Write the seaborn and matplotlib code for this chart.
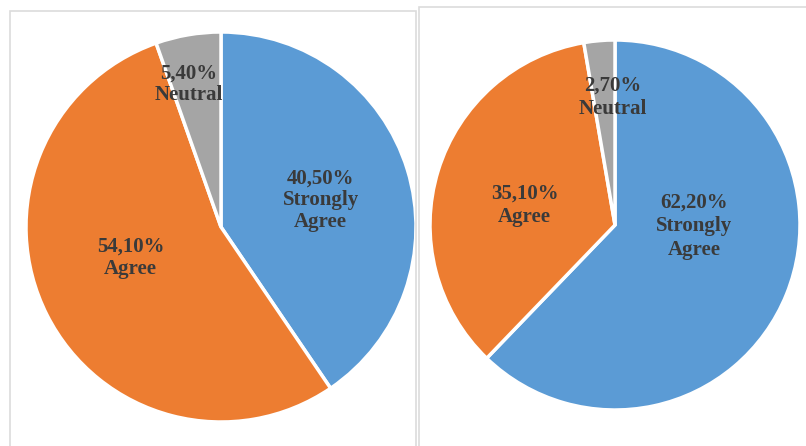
import numpy as np
import matplotlib
matplotlib.use("Agg")
import matplotlib.pyplot as plt
import seaborn as sns
from matplotlib.patches import Rectangle

sns.set_style("white")

categories = ["Strongly Agree", "Agree", "Neutral"]
left_values = [40.5, 54.1, 5.4]
right_values = [62.2, 35.1, 2.7]
left_labels = ["40,50%\nStrongly\nAgree", "54,10%\nAgree", "5,40%\nNeutral"]
right_labels = ["62,20%\nStrongly\nAgree", "35,10%\nAgree", "2,70%\nNeutral"]

colors = ["#5B9BD5", "#ED7D31", "#A5A5A5"]
text_color = "#3A3A3A"

W, H = 806, 446
fig = plt.figure(figsize=(W / 100, H / 100), dpi=100)
fig.patch.set_facecolor("white")

# panel frames (pixel coords -> figure coords)
def px_rect(x0, y0, x1, y1):
    return Rectangle((x0 / W, 1 - y1 / H), (x1 - x0) / W, (y1 - y0) / H,
                     transform=fig.transFigure, fill=False,
                     edgecolor="#DCDCDC", linewidth=1.2)

fig.patches.append(px_rect(10, 11, 416, 452))
fig.patches.append(px_rect(419, 7, 812, 452))

ax = fig.add_axes([0, 0, 1, 1])

def draw(values, labels, cx, cy, r, rfac, angoff, lsp):
    wedges, _ = ax.pie(values, colors=colors, startangle=90, counterclock=False,
                       center=(cx, H - cy), radius=r,
                       wedgeprops=dict(edgecolor="white", linewidth=2.5))
    for w, lab, f, da in zip(wedges, labels, rfac, angoff):
        mid = np.deg2rad((w.theta1 + w.theta2) / 2 + da)
        ax.text(cx + f * r * np.cos(mid), H - cy + f * r * np.sin(mid), lab,
                ha="center", va="center", fontsize=15, fontweight="bold",
                family=["Liberation Serif", "DejaVu Serif"], color=text_color,
                linespacing=lsp)

draw(left_values, left_labels, 221, 227, 195, [0.53, 0.49, 0.75], [-2, -8, 3], 1.12)
draw(right_values, right_labels, 615, 225, 185, [0.43, 0.5, 0.69], [21, 5, -4], 1.22)

ax.set_xlim(0, W)
ax.set_ylim(0, H)
ax.set_aspect("auto")
ax.axis("off")

fig.savefig("out.png", dpi=100, facecolor="white")
